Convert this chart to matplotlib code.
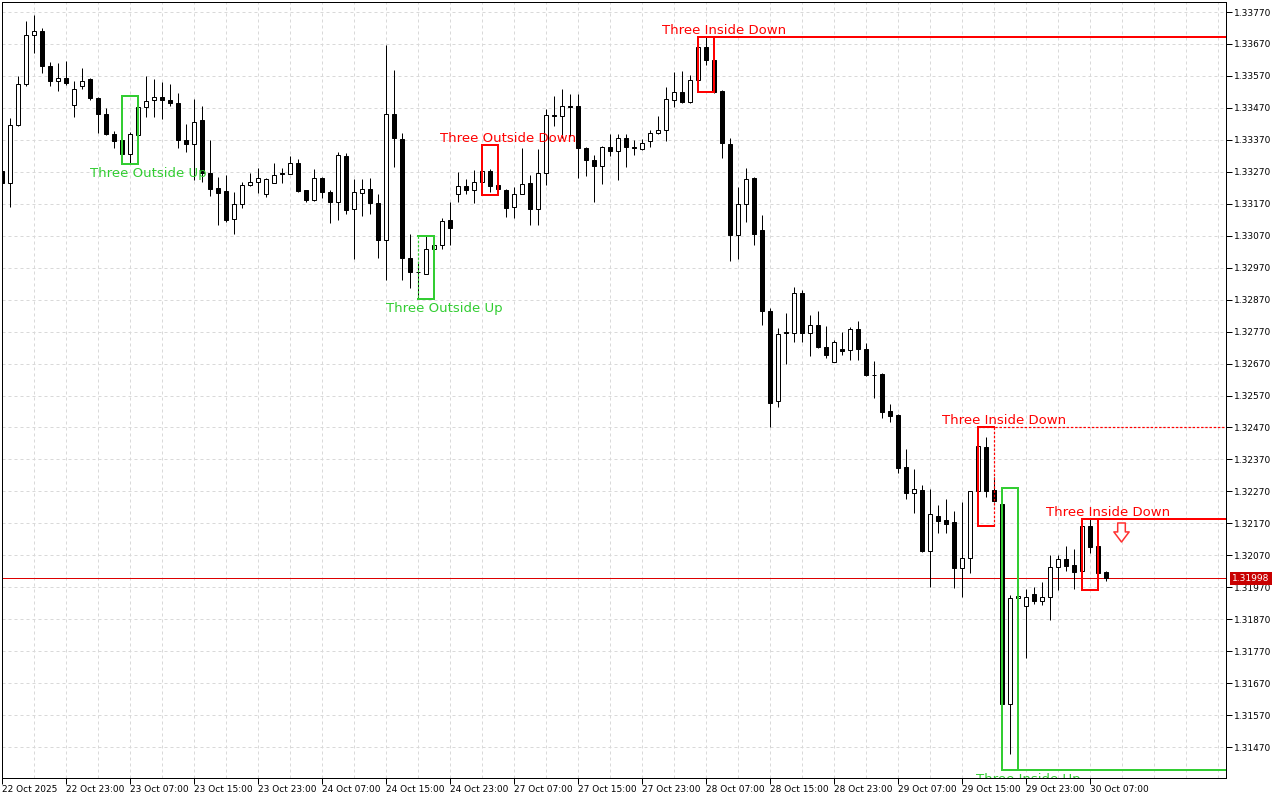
import numpy as np
import matplotlib.pyplot as plt
import matplotlib.transforms as mtransforms
from matplotlib.path import Path
from matplotlib.ticker import MultipleLocator

# hourly GBPUSD-style bars
opens = [1.33274, 1.33236, 1.33415, 1.33545, 1.33698, 1.33712, 1.33602, 1.33553, 1.33564, 1.33479,
         1.33539, 1.33559, 1.33501, 1.33451, 1.33389, 1.33368, 1.33326, 1.33386, 1.33473, 1.33494,
         1.33504, 1.33496, 1.33486, 1.33370, 1.33356, 1.33432, 1.33265, 1.33218, 1.33210, 1.33121,
         1.33168, 1.33229, 1.33239, 1.33201, 1.33236, 1.33265, 1.33264, 1.33298, 1.33212, 1.33181,
         1.33251, 1.33208, 1.33176, 1.33321, 1.33154, 1.33204, 1.33217, 1.33173, 1.33056, 1.33451,
         1.33373, 1.33001, 1.32956, 1.32951, 1.33027, 1.33041, 1.33120, 1.33201, 1.33225, 1.33213,
         1.33239, 1.33272, 1.33230, 1.33213, 1.33160, 1.33201, 1.33236, 1.33154, 1.33267, 1.33448,
         1.33446, 1.33475, 1.33475, 1.33345, 1.33308, 1.33288, 1.33349, 1.33335, 1.33376, 1.33349,
         1.33340, 1.33367, 1.33392, 1.33402, 1.33496, 1.33520, 1.33489, 1.33558, 1.33661, 1.33620,
         1.33524, 1.33358, 1.33072, 1.33170, 1.33251, 1.33088, 1.32835, 1.32553, 1.32768, 1.32767,
         1.32892, 1.32767, 1.32792, 1.32723, 1.32676, 1.32717, 1.32712, 1.32779, 1.32717, 1.32635,
         1.32637, 1.32521, 1.32509, 1.32345, 1.32264, 1.32274, 1.32082, 1.32194, 1.32180, 1.32173,
         1.32031, 1.32061, 1.32270, 1.32408, 1.32274, 1.32230, 1.31604, 1.31936, 1.31910, 1.31948,
         1.31928, 1.31941, 1.32035, 1.32058, 1.32040, 1.32022, 1.32162, 1.32099, 1.32017]
highs = [1.33285, 1.33437, 1.33570, 1.33743, 1.33762, 1.33720, 1.33615, 1.33609, 1.33617, 1.33555,
         1.33595, 1.33562, 1.33503, 1.33470, 1.33399, 1.33397, 1.33394, 1.33506, 1.33570, 1.33559,
         1.33551, 1.33546, 1.33517, 1.33420, 1.33497, 1.33476, 1.33370, 1.33253, 1.33260, 1.33206,
         1.33237, 1.33265, 1.33282, 1.33250, 1.33298, 1.33282, 1.33321, 1.33311, 1.33213, 1.33279,
         1.33253, 1.33212, 1.33333, 1.33329, 1.33246, 1.33248, 1.33252, 1.33199, 1.33668, 1.33590,
         1.33392, 1.33076, 1.32989, 1.33069, 1.33069, 1.33124, 1.33176, 1.33270, 1.33246, 1.33277,
         1.33279, 1.33279, 1.33265, 1.33215, 1.33223, 1.33343, 1.33259, 1.33340, 1.33465, 1.33508,
         1.33529, 1.33514, 1.33514, 1.33347, 1.33324, 1.33350, 1.33389, 1.33387, 1.33387, 1.33371,
         1.33373, 1.33400, 1.33444, 1.33536, 1.33581, 1.33585, 1.33574, 1.33696, 1.33692, 1.33692,
         1.33526, 1.33376, 1.33223, 1.33281, 1.33254, 1.33134, 1.32845, 1.32782, 1.32829, 1.32910,
         1.32899, 1.32823, 1.32834, 1.32787, 1.32743, 1.32769, 1.32785, 1.32802, 1.32735, 1.32677,
         1.32641, 1.32543, 1.32511, 1.32404, 1.32340, 1.32290, 1.32279, 1.32227, 1.32245, 1.32209,
         1.32236, 1.32272, 1.32472, 1.32441, 1.32316, 1.32232, 1.31946, 1.32006, 1.31965, 1.31972,
         1.31985, 1.32071, 1.32071, 1.32099, 1.32089, 1.32186, 1.32186, 1.32139, 1.32021]
lows = [1.33225, 1.33161, 1.33413, 1.33538, 1.33642, 1.33579, 1.33538, 1.33522, 1.33543, 1.33441,
        1.33529, 1.33494, 1.33392, 1.33385, 1.33345, 1.33324, 1.33293, 1.33385, 1.33441, 1.33441,
        1.33436, 1.33475, 1.33346, 1.33333, 1.33244, 1.33239, 1.33194, 1.33104, 1.33114, 1.33075,
        1.33156, 1.33225, 1.33204, 1.33191, 1.33234, 1.33236, 1.33262, 1.33208, 1.33175, 1.33180,
        1.33187, 1.33111, 1.33119, 1.33137, 1.32996, 1.33131, 1.33137, 1.32999, 1.32931, 1.33285,
        1.32931, 1.32907, 1.32873, 1.32949, 1.32996, 1.33027, 1.33041, 1.33176, 1.33201, 1.33173,
        1.33204, 1.33206, 1.33201, 1.33129, 1.33124, 1.33199, 1.33103, 1.33103, 1.33228, 1.33413,
        1.33376, 1.33381, 1.33251, 1.33256, 1.33176, 1.33232, 1.33319, 1.33244, 1.33285, 1.33322,
        1.33338, 1.33347, 1.33387, 1.33366, 1.33472, 1.33486, 1.33486, 1.33556, 1.33604, 1.33517,
        1.33314, 1.32990, 1.32996, 1.33113, 1.33041, 1.32790, 1.32472, 1.32535, 1.32670, 1.32736,
        1.32736, 1.32693, 1.32720, 1.32688, 1.32674, 1.32696, 1.32680, 1.32680, 1.32630, 1.32563,
        1.32500, 1.32488, 1.32328, 1.32245, 1.32204, 1.32080, 1.31972, 1.32141, 1.32141, 1.31967,
        1.31941, 1.32016, 1.32252, 1.32252, 1.32236, 1.31399, 1.31449, 1.31800, 1.31748, 1.31918,
        1.31915, 1.31868, 1.31962, 1.32022, 1.31964, 1.31964, 1.32078, 1.32014, 1.31990]
closes = [1.33236, 1.33418, 1.33545, 1.33699, 1.33711, 1.33600, 1.33553, 1.33564, 1.33548, 1.33529,
          1.33554, 1.33500, 1.33450, 1.33388, 1.33366, 1.33326, 1.33387, 1.33473, 1.33492, 1.33504,
          1.33494, 1.33485, 1.33370, 1.33356, 1.33427, 1.33267, 1.33215, 1.33205, 1.33119, 1.33168,
          1.33228, 1.33239, 1.33251, 1.33248, 1.33261, 1.33263, 1.33298, 1.33210, 1.33181, 1.33251,
          1.33206, 1.33176, 1.33323, 1.33152, 1.33208, 1.33217, 1.33172, 1.33056, 1.33451, 1.33376,
          1.33001, 1.32956, 1.32955, 1.33027, 1.33042, 1.33117, 1.33094, 1.33225, 1.33213, 1.33239,
          1.33272, 1.33225, 1.33217, 1.33156, 1.33201, 1.33232, 1.33154, 1.33265, 1.33448, 1.33445,
          1.33475, 1.33474, 1.33345, 1.33306, 1.33288, 1.33348, 1.33334, 1.33376, 1.33348, 1.33346,
          1.33359, 1.33392, 1.33402, 1.33498, 1.33520, 1.33489, 1.33558, 1.33661, 1.33619, 1.33519,
          1.33361, 1.33072, 1.33170, 1.33248, 1.33074, 1.32835, 1.32547, 1.32761, 1.32765, 1.32892,
          1.32767, 1.32792, 1.32722, 1.32698, 1.32739, 1.32710, 1.32779, 1.32716, 1.32634, 1.32633,
          1.32519, 1.32507, 1.32344, 1.32264, 1.32279, 1.32082, 1.32198, 1.32178, 1.32168, 1.32031,
          1.32061, 1.32270, 1.32412, 1.32270, 1.32241, 1.31604, 1.31936, 1.31942, 1.31941, 1.31927,
          1.31941, 1.32033, 1.32058, 1.32038, 1.32019, 1.32162, 1.32097, 1.32016, 1.31998]

time_labels = ['22 Oct 2025', '22 Oct 23:00', '23 Oct 07:00', '23 Oct 15:00', '23 Oct 23:00',
               '24 Oct 07:00', '24 Oct 15:00', '24 Oct 23:00', '27 Oct 07:00', '27 Oct 15:00',
               '27 Oct 23:00', '28 Oct 07:00', '28 Oct 15:00', '28 Oct 23:00', '29 Oct 07:00',
               '29 Oct 15:00', '29 Oct 23:00', '30 Oct 07:00']
bars_per_label = 8
last_price = 1.31998

# pattern boxes found by the indicator
pat_names = ['Three Outside Up', 'Three Outside Up', 'Three Outside Down', 'Three Inside Down',
             'Three Inside Down', 'Three Inside Down', 'Three Inside Up']
pat_first = [15, 52, 60, 87, 122, 135, 125]
pat_last = [17, 54, 62, 89, 124, 137, 127]
pat_top = [1.33506, 1.33069, 1.33354, 1.33691, 1.32472, 1.32184, 1.32280]
pat_bottom = [1.33293, 1.32873, 1.33197, 1.33521, 1.32162, 1.31962, 1.31398]
pat_bull = [True, True, False, False, False, False, True]
pat_extend = [False, False, False, True, True, True, True]
pat_dotted = ['', 'left', '', '', 'right', '', '']

signal_bar = [139.8]
signal_price = [1.32143]

RED = '#ff0000'
GREEN = '#32cd32'
px = 0.72  # one pixel in points at 100 dpi

fig = plt.figure(figsize=(12.8, 8), dpi=100)
ax = fig.add_axes([2 / 1280, 22 / 800, 1224 / 1280, 776 / 800])

x = np.arange(len(opens))
o = np.array(opens)
c = np.array(closes)
up = c >= o

ax.vlines(x, lows, highs, color='black', lw=px, zorder=3)
ax.bar(x, c - o, bottom=o, width=0.5, color=np.where(up, 'white', 'black'),
       edgecolor='black', linewidth=px, zorder=4)

ax.set_xlim(-0.0625, 152.94)
ax.set_ylim(1.313733, 1.338013)

ax.axhline(last_price, color='#dd0000', lw=px, zorder=2)

dot = (0, (2, 1.5))
for k in range(len(pat_names)):
    col = GREEN if pat_bull[k] else RED
    x0, x1 = pat_first[k], pat_last[k]
    top, bot = pat_top[k], pat_bottom[k]
    sides = {'left': ([x0, x0], [top, bot]), 'bottom': ([x0, x1], [bot, bot]),
             'right': ([x1, x1], [bot, top]), 'top': ([x0, x1], [top, top])}
    for name, (xs, ys) in sides.items():
        if name == pat_dotted[k]:
            ax.plot(xs, ys, color=col, lw=1.2 * px, ls=dot, zorder=5)
        else:
            ax.plot(xs, ys, color=col, lw=2 * px, zorder=5, solid_capstyle='projecting')
    if pat_extend[k]:
        ly = bot if pat_bull[k] else top
        dotted = pat_dotted[k] == 'right'
        ax.plot([x0, ax.get_xlim()[1]], [ly, ly], color=col, zorder=5,
                lw=(1.2 if dotted else 2) * px, ls=dot if dotted else '-')
    if pat_bull[k]:
        t = ax.annotate(pat_names[k], (x1 + 1.2, bot), xytext=(0, -13), textcoords='offset pixels',
                        ha='center', va='baseline', color=col, fontsize=9.5, zorder=6)
    else:
        t = ax.annotate(pat_names[k], (x1 + 1.2, top), xytext=(0, 3), textcoords='offset pixels',
                        ha='center', va='baseline', color=col, fontsize=9.5, zorder=6)
    t.set_clip_box(ax.bbox)
    t.set_clip_on(True)

arrow = Path([(-0.2, 0.5), (0.2, 0.5), (0.2, 0.03), (0.4, 0.03), (0.0, -0.5),
              (-0.4, 0.03), (-0.2, 0.03), (-0.2, 0.5)], closed=True)
ax.plot(signal_bar, signal_price, ls='none', marker=arrow, markersize=13.7,
        mfc='white', mec='#ff3030', mew=1.1, zorder=6)

# axes, ticks and grid
ax.yaxis.tick_right()
ax.set_yticks(np.arange(1.31470, 1.33771, 0.001))
ax.yaxis.set_major_formatter(plt.FormatStrFormatter('%.5f'))
ax.set_xticks(np.arange(len(time_labels)) * bars_per_label, time_labels)
for lab in ax.get_xticklabels():
    lab.set_ha('left')
ax.xaxis.set_minor_locator(MultipleLocator(4))
ax.tick_params(axis='both', which='major', length=4, width=px, labelsize=6.5, color='black')
ax.tick_params(axis='x', which='major', pad=1)
ax.tick_params(axis='y', which='major', pad=2)
ax.tick_params(axis='x', which='minor', length=0)
ax.grid(True, which='both', color='#d9d9d9', lw=px, ls=(0, (3, 3)), zorder=0)
ax.set_axisbelow(True)
for sp in ax.spines.values():
    sp.set_linewidth(px)
    sp.set_color('black')

trans = mtransforms.blended_transform_factory(ax.transAxes, ax.transData)
ax.text(1.0 + 6 / 1224, last_price, f'{last_price:.5f}', transform=trans, color='white',
        fontsize=6.5, ha='left', va='center', clip_on=False, zorder=10,
        bbox=dict(boxstyle='square,pad=0.25', fc='#c80000', ec='none'))

fig.savefig('out.png', dpi=100)
